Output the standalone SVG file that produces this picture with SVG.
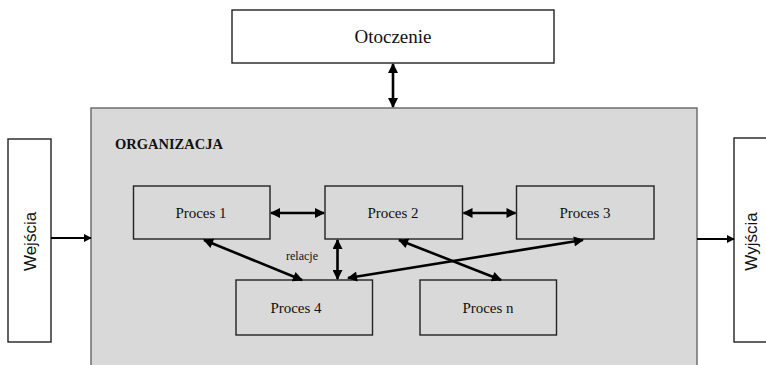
<svg xmlns="http://www.w3.org/2000/svg" width="766" height="365" viewBox="0 0 766 365">
<style>
.box{fill:#ffffff;stroke:#222;stroke-width:1.4}
.proc{fill:#d9d9d9;stroke:#222;stroke-width:1.4}
.serif{font-family:"Liberation Serif","Times New Roman",serif;fill:#111}
.sans{font-family:"Liberation Sans",Arial,sans-serif;fill:#111}
.lbl{font-size:15px;text-anchor:middle}
.conn{stroke:#000;stroke-width:2.6;fill:none;marker-start:url(#ah);marker-end:url(#ah)}
.one{stroke:#000;stroke-width:2;fill:none;marker-end:url(#ah2)}
</style>
<defs>
<marker id="ah" viewBox="0 0 10 10" refX="9" refY="5" markerUnits="userSpaceOnUse" markerWidth="11" markerHeight="10" orient="auto-start-reverse">
<path d="M0,0 L10,5 L0,10 Z" fill="#000"/>
</marker>
<marker id="ah2" viewBox="0 0 10 10" refX="9" refY="5" markerUnits="userSpaceOnUse" markerWidth="8" markerHeight="8" orient="auto">
<path d="M0,0 L10,5 L0,10 Z" fill="#000"/>
</marker>
</defs>
<rect width="766" height="365" fill="#fff"/>
<g id="organizacja">
<rect x="91" y="108" width="606" height="262" fill="#d9d9d9" stroke="#666" stroke-width="1.4"/>
<text x="115" y="149" class="serif" font-size="14.5" font-weight="bold">ORGANIZACJA</text>
</g>
<g id="otoczenie">
<rect class="box" x="232" y="10" width="322" height="53"/>
<text x="393" y="43" class="serif" font-size="19" text-anchor="middle">Otoczenie</text>
</g>
<g id="wejscia">
<rect class="box" x="8" y="139" width="43" height="203"/>
<text class="sans" font-size="17" text-anchor="middle" transform="translate(36,241.5) rotate(-90)">Wejścia</text>
</g>
<g id="wyjscia">
<rect class="box" x="734" y="138" width="40" height="204"/>
<text class="sans" font-size="17" text-anchor="middle" transform="translate(757,241.5) rotate(-90)">Wyjścia</text>
</g>
<g id="proces1">
<rect class="proc" x="133.5" y="186" width="136.5" height="53"/>
<text x="201" y="218" class="serif lbl">Proces 1</text>
</g>
<g id="proces2">
<rect class="proc" x="325" y="186" width="137.5" height="53"/>
<text x="393" y="218" class="serif lbl">Proces 2</text>
</g>
<g id="proces3">
<rect class="proc" x="516.5" y="186" width="137.5" height="53"/>
<text x="585" y="218" class="serif lbl">Proces 3</text>
</g>
<g id="proces4">
<rect class="proc" x="236" y="280" width="136.5" height="55"/>
<text x="296" y="313" class="serif lbl">Proces 4</text>
</g>
<g id="procesn">
<rect class="proc" x="420" y="280" width="136.5" height="55"/>
<text x="488" y="313" class="serif lbl">Proces n</text>
</g>
<g id="connectors">
<line class="conn" x1="393" y1="64" x2="393" y2="107"/>
<line class="one" x1="51" y1="238" x2="91" y2="238"/>
<line class="one" x1="697" y1="239" x2="734" y2="239"/>
<line class="conn" x1="271" y1="213" x2="324" y2="213"/>
<line class="conn" x1="463.5" y1="213" x2="515.5" y2="213"/>
<line class="conn" x1="337.5" y1="240" x2="337.5" y2="279"/>
<line class="conn" x1="204" y1="240" x2="302" y2="280"/>
<line class="conn" x1="399" y1="240" x2="501" y2="280"/>
<line class="conn" x1="583" y1="240" x2="348" y2="278"/>
<text x="302" y="260" class="serif" font-size="12" text-anchor="middle">relacje</text>
</g>
</svg>
